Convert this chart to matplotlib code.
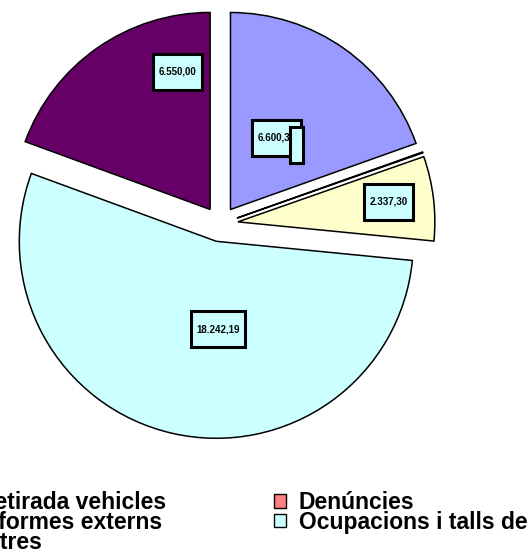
import matplotlib.pyplot as plt
from matplotlib.patches import Patch

plt.rcParams['font.family'] = ['Liberation Sans', 'DejaVu Sans']
plt.rcParams['font.weight'] = 'bold'

categories = ["Retirada vehicles", "Denúncies", "Informes externs",
              "Ocupacions i talls de carrer", "Altres"]
values = [6600.30, 25.00, 2337.30, 18242.19, 6550.00]
value_labels = ["6.600,30", "", "2.337,30", "18.242,19", "6.550,00"]
colors = ["#9999FF", "#FF8080", "#FFFFCC", "#CCFFFF", "#660066"]

# where each value box sits (pie units)
label_pos = [(0.287, 0.437), (0.386, 0.401), (0.853, 0.112), (-0.01, -0.533), (-0.218, 0.772)]

fig = plt.figure(figsize=(5.29, 5.51), dpi=100)
ax = fig.add_axes([-26 / 529, 80.75 / 551, 492.5 / 529, 492.5 / 551])
wedges, _ = ax.pie(values, colors=colors, startangle=90, counterclock=False,
                   explode=[0.09] * len(values),
                   wedgeprops=dict(edgecolor="black", linewidth=1.1))
ax.set_xlim(-1.25, 1.25)
ax.set_ylim(-1.25, 1.25)

for i, (lab, (x, y)) in enumerate(zip(value_labels, label_pos)):
    txt = lab if lab else " "
    ax.text(x, y, " \n" + txt + "\n ", ha="center", va="center", fontsize=7,
            fontweight="bold", linespacing=0.75, zorder=5 + i,
            bbox=dict(boxstyle="square,pad=0.55", facecolor="#CCFFFF",
                      edgecolor="black", linewidth=2.2))

order = [0, 2, 4, 1, 3]
handles = [Patch(facecolor=colors[i], edgecolor="black", linewidth=1) for i in order]
labels = [categories[i] for i in order]
fig.legend(handles, labels, ncols=2, loc="upper left",
           bbox_to_anchor=(-47 / 529, 1 - 491 / 551), fontsize=16.5, frameon=False,
           handlelength=0.52, handleheight=0.52, handletextpad=0.55,
           labelspacing=-0.14, columnspacing=4.74, borderpad=0, borderaxespad=0)

fig.savefig("out.png", dpi=100)
